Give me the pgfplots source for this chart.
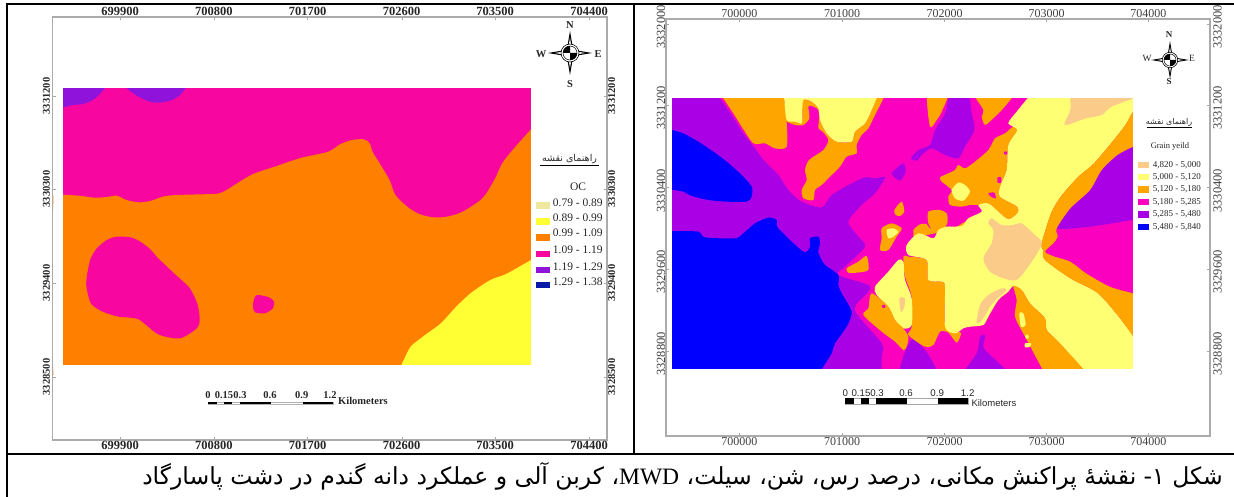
\documentclass[border=0pt]{standalone}
\usepackage{fontspec}
\usepackage{pgfplots}
\pgfplotsset{compat=1.18}
\setmainfont{Liberation Serif}
\newfontfamily\latinf{Liberation Serif}
\newfontfamily\sansf{Liberation Sans}
\newfontfamily\arabicfont[Script=Arabic]{DejaVu Sans}
\TeXXeTstate=1
% left map colours
\definecolor{lM}{HTML}{F806A0}\definecolor{lO}{HTML}{FF8000}\definecolor{lP}{HTML}{9013DC}
\definecolor{lY}{HTML}{FFFF33}\definecolor{lK}{HTML}{EEE8A0}\definecolor{lN}{HTML}{0A1AA8}
% right map colours
\definecolor{rM}{HTML}{FB00BE}\definecolor{rO}{HTML}{FFA500}\definecolor{rP}{HTML}{A900E6}
\definecolor{rY}{HTML}{FFFF73}\definecolor{rK}{HTML}{FBCB8A}\definecolor{rB}{HTML}{0000FF}
\definecolor{frameg}{HTML}{ABABAB}
\pgfplotsset{
  mapframe/.style={scale only axis,y dir=reverse,clip=false,
    axis line style={draw=frameg,line width=1.4pt},
    tick style={draw=gray!70,line width=.4pt},
    tick align=inside,major tick length=3pt,
    xticklabel style={inner sep=1pt},
    tick pos=both},
  poly/.style={fill=#1,draw=none,smooth cycle,tension=.45},
  box/.style={fill=#1,draw=none},
}
\newcommand\compass[2]{% centre in axis cs, scale
  \begin{scope}[shift={(axis cs:#1)},scale=#2]
    \fill[black] (0,22)--(3.2,3.2)--(22,0)--(3.2,-3.2)--(0,-22)--(-3.2,-3.2)--(-22,0)--(-3.2,3.2)--cycle;
    \fill[white] (0,15)--(-1.2,8)--(1.2,8)--cycle;
    \fill[white] (0,-15)--(-1.2,-8)--(1.2,-8)--cycle;
    \fill[white] (-15,0)--(-8,-1.2)--(-8,1.2)--cycle;
    \fill[white] (15,0)--(8,-1.2)--(8,1.2)--cycle;
    \fill[white] (0,0) circle (9);
    \draw[black,line width=.6pt] (0,0) circle (9);
    \draw[black,line width=.5pt] (0,0) circle (7);
    \fill[black] (0,0)--(7,0) arc (0:90:7)--cycle;
    \fill[black] (0,0)--(-7,0) arc (180:270:7)--cycle;
  \end{scope}}
\newcommand\lrow[5]{% top y, bottom y, x1, x2, colour
  \addplot[box=#5] coordinates {(#3,#1)(#4,#1)(#4,#2)(#3,#2)} --cycle;}
\begin{document}
\begin{tikzpicture}[x=1pt,y=1pt]
\useasboundingbox (0,0) rectangle (1234pt,497pt);
% ---------------- left map, in image pixel units ----------------
\begin{axis}[mapframe,at={(52.6pt,57pt)},anchor=south west,width=554.4pt,height=423pt,
  xmin=52.6,xmax=607,ymin=17,ymax=440,
  xtick={120.2,213.9,307.6,401.7,495,589},
  xticklabels={699900,700800,701700,702600,703500,704400},
  ytick={96,189,283,377},
  yticklabels={3331200,3330300,3329400,3328500},
  xticklabel pos=right,yticklabel pos=left,
  xticklabel style={font=\fontsize{12.5}{12.5}\selectfont\bfseries,text=black!85},
  yticklabel style={font=\fontsize{10.5}{10.5}\selectfont\bfseries,text=black!85,rotate=90,anchor=south,inner sep=2.5pt},
]
\addplot[box=lM] coordinates {(62.5,88)(531,88)(531,365)(62.5,365)} --cycle;
\addplot[poly=lP] coordinates {(56,76)(66,76)(100,76)(110,76)(104.8,88)(98.9,95)(92.9,100)(83,104)(73.1,105)(62.5,107.7)(56,110)(56,100)(56,86)};
\addplot[poly=lP] coordinates {(120,76)(130,76)(182,76)(192,76)(185.8,88)(179.9,95)(172,100)(160,102.7)(150,101.7)(138.4,96.7)(132.5,92.7)(126.5,88)};
\addplot[poly=lO] coordinates {(54,194.5)(62.5,194.7)(79.1,195.7)(94.9,197.7)(106.8,197)(116.6,195.7)(126.5,200)(138.4,202.3)(150.3,201)(164.1,196.3)(177.9,195)(201.7,194.3)(217.5,193.7)(225.4,190.7)(237.2,183.3)(253.1,174)(276.8,166)(300.5,158)(328.2,151.7)(340,144.3)(351.9,140)(363.8,139.3)(369.7,143.3)(372.5,151.7)(379.6,163.3)(389.5,180)(395.4,195)(407.3,206.7)(419.1,214)(433,217.3)(446.8,216.7)(462.6,211.7)(482.4,198.3)(494.3,180)(502.2,163.3)(514,148.3)(531,129.3)(541,118)(541,128)(541,150)(541,200)(541,300)(541,350)(541,366)(541,376)(531,376)(515,376)(480,376)(400,376)(300,376)(180,376)(100,376)(70,376)(60,376)(54,376)(54,366)(54,345)(54,290)(54,235)(54,210)};
\addplot[poly=lY] coordinates {(396,376)(401.3,365)(405.3,356.7)(411.2,346)(425.1,335)(440.9,323.3)(454.7,308.3)(470.5,293.3)(490.3,280)(506.1,274)(531,260)(541,254)(541,264)(541,285)(541,330)(541,355)(541,368)(541,376)(533,376)(522,376)(495,376)(450,376)(420,376)(406,376)};
\addplot[poly=lM] coordinates {(96.9,248.3)(106.8,240)(116.6,236.7)(130.5,237.3)(140.4,241.7)(150.3,249.3)(158.2,258.3)(174,273.3)(189.8,288.3)(197.7,305)(199.7,320)(196.9,328.3)(179.9,338.3)(158.2,334.3)(138.4,319.3)(118.6,316.7)(102.8,311.7)(90.9,303.3)(86.2,283.3)(90.2,260)};
\addplot[poly=lM] coordinates {(257,295)(268.9,297.3)(274,301.7)(272.8,308.3)(264.9,313.3)(255,312.3)(253,306.7)(253.8,300)};
% white margins round the map
\lrow{70}{88}{53.5}{545}{white}
\lrow{365}{380}{53.5}{545}{white}
\lrow{70}{380}{53.5}{62.5}{white}
\lrow{70}{380}{531}{545}{white}
% scale bar
\addplot[draw=gray!60,fill=white,line width=.3pt] coordinates {(208.4,401.7)(333.3,401.7)(333.3,403.7)(208.4,403.7)} --cycle;
\lrow{401.5}{404}{208.4}{216.7}{black}
\lrow{401.5}{404}{224.2}{232}{black}
\lrow{401.5}{404}{239.6}{270.8}{black}
\lrow{401.5}{404}{302.5}{333.3}{black}
\end{axis}
\begin{axis}[mapframe,at={(52.6pt,57pt)},anchor=south west,width=554.4pt,height=423pt,
  xmin=52.6,xmax=607,ymin=17,ymax=440,
  xtick={120.2,213.9,307.6,401.7,495,589},
  xticklabels={699900,700800,701700,702600,703500,704400},
  ytick={96,189,283,377},
  yticklabels={3331200,3330300,3329400,3328500},
  xticklabel pos=left,yticklabel pos=right,
  xticklabel style={font=\fontsize{12.5}{12.5}\selectfont\bfseries,text=black!85},
  yticklabel style={font=\fontsize{10.5}{10.5}\selectfont\bfseries,text=black!85,rotate=90,anchor=north,inner sep=1pt},
]
\end{axis}
% ---------------- right map, in units of (pixel-655)*3, (pixel-90)*3 ----------------
\begin{axis}[mapframe,at={(666pt,61pt)},anchor=south west,width=544pt,height=417pt,
  xmin=33,xmax=1665,ymin=-213,ymax=1038,
  xtick={253,561,869,1175,1480},
  xticklabels={700000,701000,702000,703000,704000},
  ytick={-198,45,293,537,783},
  yticklabels={3332000,3331200,3330400,3329600,3328800},
  xticklabel pos=right,yticklabel pos=left,
  xticklabel style={font=\fontsize{12}{12}\selectfont,text=black!75},
  yticklabel style={font=\fontsize{12.5}{12.5}\selectfont,text=black!75,rotate=90,anchor=south,inner sep=0.5pt,xshift=-3pt},
]
\addplot[box=rM] coordinates {(52,24)(1434,24)(1434,838)(52,838)} --cycle;
% purple
\addplot[poly=rP] coordinates {(40,5)(52,5)(170,5)(182,5)(195,24)(230,75)(265,130)(300,175)(330,215)(370,255)(400,300)(440,335)(500,352)(530,315)(590,280)(630,262)(660,265)(690,262)(660,310)(620,345)(580,395)(610,440)(630,470)(570,530)(550,555)(640,585)(640,605)(600,660)(680,760)(680,800)(680,848)(680,860)(668,860)(640,860)(560,860)(350,860)(150,860)(75,860)(52,860)(40,860)(40,848)(40,820)(40,740)(40,500)(40,240)(40,90)(40,35)(40,17)};
\addplot[poly=rP] coordinates {(745,220)(752,245)(735,272)(710,250)};
\addplot[poly=rP] coordinates {(738,860)(745,800)(765,755)(780,745)(790,760)(810,780)(835,820)(845,860)};
\addplot[poly=rP] coordinates {(915,860)(927,860)(1063,860)(1075,860)(1000,790)(985,770)(990,735)(975,740)(965,790)};
\addplot[poly=rP] coordinates {(888,5)(938,5)(950,70)(958,120)(930,170)(910,205)(870,195)(830,175)(800,195)(785,212)(768,205)(790,180)(825,165)(840,120)(870,70)};
\addplot[poly=rP] coordinates {(1205,415)(1246,355)(1305,300)(1340,240)(1387,195)(1434,170)(1460,158)(1460,170)(1460,373)(1460,385)(1434,390)(1420,392)(1305,410)};
% blue
\addplot[poly=rB] coordinates {(40,118)(52,120)(85,130)(130,155)(175,185)(215,215)(260,255)(290,290)(290,320)(275,335)(215,335)(160,330)(110,318)(85,305)(52,299)(40,297)(40,285)(40,130)};
\addplot[poly=rB] coordinates {(40,423)(52,423)(130,425)(150,442)(240,445)(265,430)(300,400)(340,383)(365,390)(370,415)(445,485)(465,470)(465,445)(490,440)(495,460)(490,485)(500,510)(510,525)(550,555)(550,585)(560,610)(590,665)(575,710)(540,760)(530,790)(500,838)(488,860)(476,860)(440,860)(300,860)(130,860)(70,860)(52,860)(40,860)(40,848)(40,820)(40,700)(40,520)(40,460)(40,435)};
% orange under yellow
\addplot[poly=rO] coordinates {(192,5)(204,5)(373,5)(385,5)(388,30)(395,95)(395,170)(360,175)(330,160)(295,160)(260,110)(235,70)};
\addplot[poly=rO] coordinates {(440,30)(470,35)(490,55)(495,90)(515,130)(545,155)(590,155)(600,125)(630,100)(650,60)(672,5)(694,5)(660,75)(640,115)(620,135)(605,165)(605,190)(575,200)(555,230)(525,260)(500,285)(480,300)(475,330)(445,325)(440,300)(455,270)(450,240)(462,210)(505,180)(520,150)(503,125)(490,115)(492,90)(490,60)(470,48)(460,50)(463,85)(445,105)(420,105)(395,95)(395,88)(420,90)(440,95)(442,60)};
\addplot[poly=rO] coordinates {(505,5)(522,5)(514,31)};
\addplot[poly=rO] coordinates {(818,5)(880,5)(860,65)(845,90)(825,110)};
\addplot[poly=rO] coordinates {(950,5)(962,5)(1073,5)(1085,5)(1045,55)(1015,85)(990,105)(980,80)(985,60)};
\addplot[poly=rO] coordinates {(1075,110)(1087,125)(1060,165)(1055,240)(1035,290)(1035,320)(1087,350)(1087,370)(1060,388)(1030,365)(1000,340)(975,345)(945,345)(920,350)(885,345)(880,320)(890,300)(860,275)(855,262)(880,250)(900,240)(910,225)(930,235)(960,215)(1000,180)(1020,145)(1050,130)};
\addplot[poly=rO] coordinates {(820,365)(855,360)(875,370)(878,395)(870,410)(835,420)(820,400)};
\addplot[poly=rO] coordinates {(755,475)(775,440)(775,420)(795,403)(815,402)(825,415)(860,408)(900,412)(925,398)(965,382)(985,365)(990,380)(940,410)(880,425)(840,430)(800,440)(775,455)(765,480)};
\addplot[poly=rO] coordinates {(745,500)(750,560)(770,620)(770,710)(760,735)(810,770)(835,765)(855,725)(880,728)(905,758)(918,730)(900,722)(870,705)(870,590)(860,575)(820,570)(815,510)(760,500)};
% yellow
\addplot[poly=rY] coordinates {(385,5)(397,5)(660,5)(672,5)(650,60)(630,100)(600,125)(590,155)(545,155)(515,130)(495,90)(490,55)(470,35)(445,30)(442,70)(440,100)(420,95)(395,90)(388,30)};
\addplot[poly=rY] coordinates {(1135,5)(1147,5)(1448,5)(1460,5)(1460,17)(1460,35)(1434,65)(1411,105)(1376,150)(1317,220)(1270,260)(1217,320)(1188,370)(1160,460)(1164,480)(1170,510)(1246,565)(1329,610)(1399,690)(1460,775)(1460,787)(1460,848)(1460,860)(1448,860)(1317,860)(1305,860)(1210,755)(1175,720)(1170,685)(1125,640)(1100,600)(1075,588)(1060,605)(1030,630)(1000,680)(985,705)(945,710)(925,715)(900,730)(870,710)(870,590)(860,575)(820,570)(815,510)(760,495)(755,465)(790,430)(835,445)(850,420)(875,410)(920,408)(940,385)(980,365)(970,345)(1000,340)(1030,365)(1060,388)(1087,370)(1087,350)(1035,320)(1035,290)(1055,240)(1060,165)(1087,120)(1060,100)(1085,65)};
\addplot[poly=rY] coordinates {(660,590)(700,545)(730,510)(745,515)(750,570)(770,625)(770,705)(745,715)(720,690)(700,650)(665,615)};
\addplot[poly=rY] coordinates {(910,278)(930,285)(945,305)(925,332)(900,325)(890,300)};
% orange over yellow
\addplot[poly=rO] coordinates {(1460,35)(1460,47)(1460,146)(1460,158)(1434,170)(1387,195)(1340,240)(1305,300)(1246,355)(1205,415)(1208,440)(1195,460)(1170,485)(1199,500)(1246,515)(1293,550)(1364,590)(1434,610)(1460,618)(1460,630)(1460,763)(1460,775)(1399,690)(1329,610)(1246,565)(1170,510)(1164,480)(1160,460)(1188,370)(1217,320)(1270,260)(1317,220)(1376,150)(1411,105)(1434,65)};
\addplot[poly=rO] coordinates {(1075,588)(1100,600)(1125,640)(1170,685)(1175,720)(1210,755)(1305,860)(1293,860)(1187,860)(1175,860)(1110,740)(1080,680)(1085,630)};
\addplot[poly=rO] coordinates {(650,610)(700,650)(720,690)(745,715)(760,740)(755,770)(745,780)(720,755)(680,725)(625,675)(640,655)};
\addplot[poly=rO] coordinates {(575,535)(610,515)(635,498)(640,540)(605,548)(580,548)};
\addplot[poly=rO] coordinates {(680,415)(710,400)(740,415)(725,440)(700,480)(675,480)(680,445)};
\addplot[poly=rY] coordinates {(695,420)(715,415)(730,425)(715,440)(700,445)};
\addplot[poly=rO] coordinates {(718,360)(740,335)(748,365)(735,378)(722,375)};
% peach
\addplot[poly=rK] coordinates {(1010,385)(1040,405)(1075,405)(1100,400)(1140,435)(1160,455)(1155,475)(1120,530)(1085,570)(1045,565)(1005,545)(985,505)(1010,460)(1015,420)(1000,400)};
\addplot[poly=rK] coordinates {(1040,595)(1000,615)(975,645)(965,700)(985,685)(1005,650)(1030,622)(1055,600)};
\addplot[poly=rK] coordinates {(1246,5)(1258,5)(1448,5)(1460,5)(1460,15)(1370,50)(1340,75)(1293,85)(1229,105)(1246,60)};
\addplot[poly=rK] coordinates {(733,625)(750,625)(748,650)(738,667)};
% small spots
\addplot[poly=rM] coordinates {(1028,262)(1038,262)(1038,278)(1028,278)};
\addplot[poly=rM] coordinates {(1000,310)(1018,308)(1022,325)(1008,320)};
\addplot[poly=rM] coordinates {(1048,185)(1056,185)(1056,193)(1048,193)};
\addplot[poly=rM] coordinates {(682,645)(690,645)(690,653)(682,653)};
\addplot[poly=rY] coordinates {(1093,670)(1105,670)(1112,705)(1098,710)};
\addplot[poly=rY] coordinates {(1112,735)(1120,735)(1120,745)(1112,745)};
\addplot[poly=rY] coordinates {(1110,760)(1128,760)(1125,770)(1110,772)};
% white margins round the map
\lrow{-40}{24}{36}{1480}{white}
\lrow{838}{900}{36}{1480}{white}
\lrow{-40}{900}{36}{52}{white}
\lrow{-40}{900}{1434}{1480}{white}
% scale bar
\addplot[draw=gray!70,fill=white,line width=.3pt] coordinates {(570,925)(939,925)(939,941)(570,941)} --cycle;
\lrow{925}{941}{570}{596}{black}
\lrow{925}{941}{617}{641}{black}
\lrow{925}{941}{663}{756}{black}
\lrow{925}{941}{848}{939}{black}
\end{axis}
\begin{axis}[mapframe,at={(666pt,61pt)},anchor=south west,width=544pt,height=417pt,
  xmin=33,xmax=1665,ymin=-213,ymax=1038,
  xtick={253,561,869,1175,1480},
  xticklabels={700000,701000,702000,703000,704000},
  ytick={-198,45,293,537,783},
  yticklabels={3332000,3331200,3330400,3329600,3328800},
  xticklabel pos=left,yticklabel pos=right,
  xticklabel style={font=\fontsize{12}{12}\selectfont,text=black!75},
  yticklabel style={font=\fontsize{12.5}{12.5}\selectfont,text=black!75,rotate=90,anchor=north,inner sep=3pt,xshift=-3pt},
]
\end{axis}
% ---------------- page: frame, legends, compasses, caption (pixel units) ----------------
\begin{axis}[at={(0pt,0pt)},anchor=south west,width=1234pt,height=497pt,scale only axis,
  xmin=0,xmax=1234,ymin=0,ymax=497,y dir=reverse,hide axis,clip=false]
\addplot[black,line width=2pt] coordinates {(6,4)(1234,4)};
\addplot[black,line width=2pt] coordinates {(7,3)(7,497)};
\addplot[black,line width=2pt] coordinates {(6,454)(1234,454)};
\addplot[black,line width=2pt] coordinates {(634,3)(634,454)};
% left legend
\lrow{202}{209}{536}{550}{lK}
\lrow{218}{225}{536}{550}{lY}
\lrow{234}{240.7}{536}{550}{lO}
\lrow{250.5}{256.7}{536}{550}{lM}
\lrow{266.5}{272.7}{536}{550}{lP}
\lrow{282}{288}{536}{550}{lN}
\addplot[black,line width=.6pt] coordinates {(540,165)(599,165)};
\addplot[black,line width=.5pt] coordinates {(1146.7,127)(1191.7,127)};
\lrow{162}{168.5}{1138}{1149.4}{rK}
\lrow{174}{180.5}{1138}{1149.4}{rY}
\lrow{186.5}{193}{1138}{1149.4}{rO}
\lrow{199}{205.5}{1138}{1149.4}{rM}
\lrow{211.5}{218}{1138}{1149.4}{rP}
\lrow{224}{230.5}{1138}{1149.4}{rB}
\compass{570,53}{1}
\compass{1170,60}{.86}
\begin{scope}[every node/.style={inner sep=0pt,text=black!85}]
\foreach \t/\x/\y in {N/570/25,S/570/84,W/541/54,E/598/54}{
  \edef\tmp{\noexpand\node[font=\noexpand\fontsize{10.5}{10.5}\noexpand\selectfont\noexpand\bfseries] at (axis cs:\x,\y) {\t};}\tmp}
\node[font=\fontsize{9}{9}\selectfont\bfseries] at (axis cs:1169,35) {N};
\node[font=\fontsize{9}{9}\selectfont\bfseries] at (axis cs:1169,82) {S};
\node[font=\fontsize{9.5}{9.5}\selectfont] at (axis cs:1147,58) {W};
\node[font=\fontsize{9.5}{9.5}\selectfont] at (axis cs:1192,58) {E};
% legend text left
\node[font=\fontsize{9.5}{9.5}\arabicfont] at (axis cs:569.5,159) {\beginR راهنمای نقشه\endR};
\node[font=\fontsize{11.5}{11.5}\selectfont] at (axis cs:578,187) {OC};
\foreach \t/\y in {0.79 - 0.89/203,0.89 - 0.99/218,0.99 - 1.09/233,1.09 - 1.19/250,1.19 - 1.29/266.7,1.29 - 1.38/282}{
  \edef\tmp{\noexpand\node[anchor=west,font=\noexpand\fontsize{11.5}{11.5}\noexpand\selectfont] at (axis cs:552.7,\y) {\t};}\tmp}
% legend text right
\node[font=\fontsize{8}{8}\arabicfont] at (axis cs:1169,122) {\beginR راهنمای نقشه\endR};
\node[font=\fontsize{8.5}{8.5}\selectfont] at (axis cs:1170,146) {Grain yeild};
\foreach \t/\y in {{4,820 - 5,000}/165,{5,000 - 5,120}/177,{5,120 - 5,180}/189,{5,180 - 5,285}/202,{5,285 - 5,480}/214,{5,480 - 5,840}/227}{
  \edef\tmp{\noexpand\node[anchor=west,font=\noexpand\fontsize{9}{9}\noexpand\selectfont] at (axis cs:1152.6,\y) {\t};}\tmp}
% scale bar labels left
\foreach \t/\x in {0/208,0.15/224,0.3/240,0.6/270,0.9/301.7,1.2/330}{
  \edef\tmp{\noexpand\node[font=\noexpand\fontsize{10.5}{10.5}\noexpand\selectfont\noexpand\bfseries] at (axis cs:\x,395) {\t};}\tmp}
\node[anchor=west,font=\fontsize{10.5}{10.5}\selectfont\bfseries] at (axis cs:338,401) {Kilometers};
% scale bar labels right
\foreach \t/\x in {0/845.2,0.15/861,0.3/877,0.6/906,0.9/937.2,1.2/967.7}{
  \edef\tmp{\noexpand\node[font=\noexpand\fontsize{9.7}{9.7}\noexpand\sansf] at (axis cs:\x,393) {\t};}\tmp}
\node[anchor=west,font=\fontsize{9.5}{9.5}\sansf] at (axis cs:971.3,403) {Kilometers};
% caption
\node[anchor=east,text=black,font=\fontsize{23.5}{23.5}\arabicfont] at (axis cs:1223,476) {\beginR شکل ۱- نقشهٔ پراکنش مکانی، درصد رس، شن، سیلت، \beginL{\latinf MWD}\endL{}، کربن آلی و عملکرد دانه گندم در دشت پاسارگاد\endR};
\end{scope}
\end{axis}
\end{tikzpicture}
\end{document}
